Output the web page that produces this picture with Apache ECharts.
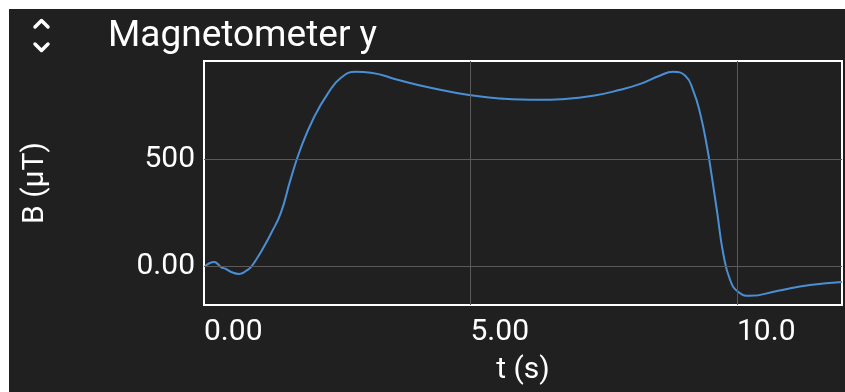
<!DOCTYPE html>
<html>
<head>
<meta charset="utf-8">
<script src="https://cdn.jsdelivr.net/npm/echarts@6/dist/echarts.min.js"></script>
<style>
html,body{margin:0;padding:0;background:#ffffff;width:845px;height:392px;overflow:hidden;}
#chart{position:absolute;left:9px;top:9px;width:836px;height:383px;}
</style>
</head>
<body>
<div id="chart"></div>
<script>
// Data
const timeS = [0.02,0.11,0.19,0.26,0.32,0.41,0.51,0.66,0.79,0.88,1.01,1.11,1.26,1.44,1.63,1.82,2.06,2.32,2.57,2.85,3.13,3.63,4.25,4.72,5.19,5.56,5.94,6.31,6.69,7.30,7.81,8.20,8.55,8.80,9.03,9.18,9.31,9.44,9.53,9.63,9.74,9.87,10.02,10.24,10.75,11.37,11.97];
const magY  = [0,14,19,9,-5,-14,-28,-37,-23,-5,42,84,154,248,411,556,696,808,883,911,907,874,836,813,795,786,781,780,783,799,827,856,893,911,893,822,715,556,416,248,61,-65,-121,-140,-117,-89,-75];
const xTickValues = [0, 5, 10];
const xTickLabels = ['0.00', '5.00', '10.0'];
const yTickValues = [0, 500];
const yTickLabels = ['0.00', '500'];
const xRange = [0, 11.97];
const yRange = [-183, 962];
const titleText = 'Magnetometer y';
const xName = 't (s)';
const yName = 'B (µT)';

const seriesData = timeS.map((t, i) => [t, magY[i]]);
const FONT = 'Roboto';

const chart = echarts.init(document.getElementById('chart'), null, {renderer: 'canvas'});
chart.setOption({
  backgroundColor: '#202020',
  animation: false,
  title: {
    text: titleText,
    left: 94, top: 4,
    textStyle: {color: '#ffffff', fontFamily: FONT, fontSize: 37, fontWeight: 'normal'}
  },
  graphic: [
    {type: 'polyline', shape: {points: [[26,18],[32.5,11.5],[39,18]]}, style: {stroke: '#ffffff', lineWidth: 3.5, fill: null, lineCap: 'round', lineJoin: 'round'}},
    {type: 'polyline', shape: {points: [[26,35],[32.5,41.5],[39,35]]}, style: {stroke: '#ffffff', lineWidth: 3.5, fill: null, lineCap: 'round', lineJoin: 'round'}}
  ],
  grid: {
    left: 195, top: 52, right: 3, bottom: 87,
    show: true, borderColor: '#ffffff', borderWidth: 2, backgroundColor: 'transparent'
  },
  xAxis: {
    type: 'value', min: xRange[0], max: xRange[1],
    axisLine: {show: false}, axisTick: {show: false}, splitLine: {show: false},
    axisLabel: {
      customValues: xTickValues,
      formatter: v => xTickLabels[xTickValues.indexOf(v)] ?? '',
      color: '#ffffff', fontFamily: FONT, fontSize: 30, align: 'left', margin: 12
    },
    name: xName, nameLocation: 'middle', nameGap: 50,
    nameTextStyle: {color: '#ffffff', fontFamily: FONT, fontSize: 30}
  },
  yAxis: {
    type: 'value', min: yRange[0], max: yRange[1],
    axisLine: {show: false}, axisTick: {show: false}, splitLine: {show: false},
    axisLabel: {
      customValues: yTickValues,
      formatter: v => yTickLabels[yTickValues.indexOf(v)] ?? '',
      color: '#ffffff', fontFamily: FONT, fontSize: 30, margin: 9
    },
    name: yName, nameLocation: 'middle', nameGap: 154, nameRotate: 90,
    nameTextStyle: {color: '#ffffff', fontFamily: FONT, fontSize: 30}
  },
  series: [
    {
      type: 'line', data: [], z: 1, silent: true,
      markLine: {
        silent: true, symbol: 'none', label: {show: false},
        lineStyle: {color: '#5a5a5a', width: 1, type: 'solid'},
        data: xTickValues.filter(v => v > xRange[0]).map(v => ({xAxis: v}))
          .concat(yTickValues.map(v => ({yAxis: v})))
      }
    },
    {
      type: 'line', data: seriesData, z: 3, showSymbol: false, smooth: 0.5,
      lineStyle: {color: '#4a8fd6', width: 2}
    }
  ]
});
</script>
</body>
</html>
